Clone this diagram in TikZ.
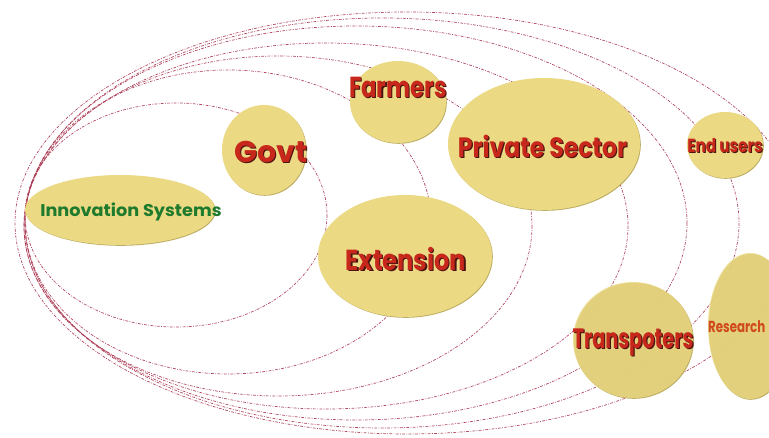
\documentclass[tikz,border=0pt]{standalone}
\usepackage{fontspec}
\usepackage{graphicx}
\setmainfont{Poppins}
\usetikzlibrary{shapes.geometric,shadows}
\definecolor{ringc}{HTML}{A8354F}
\definecolor{blobc}{HTML}{EBD984}
\definecolor{blobedge}{HTML}{B5A452}
\definecolor{labred}{HTML}{C8281C}
\definecolor{labshadow}{HTML}{4A1410}
\definecolor{labgreen}{HTML}{1E7A2C}
\definecolor{resc}{HTML}{D04A1E}
\newcommand\sq[2]{\scalebox{#1}[1]{#2}}
\begin{document}
\begin{tikzpicture}[x=1pt,y=-1pt,
  ring/.style={draw=ringc, line width=0.7pt, opacity=0.9,
    dash pattern=on 2.8pt off 1.4pt on 0.8pt off 1.4pt},
  blob/.style={ellipse, fill=blobc, inner sep=0pt,
    drop shadow={shadow xshift=0.8pt, shadow yshift=-0.8pt, fill=blobedge, opacity=0.9}},
  seeblob/.style={blob, fill opacity=0.8},
  lbl/.style={font=\bfseries\fontsize{#1}{#1}\selectfont, inner sep=0pt, text=labred},
  lblsh/.style={font=\bfseries\fontsize{#1}{#1}\selectfont, inner sep=0pt, text=labshadow}]
\useasboundingbox (0,0) rectangle (769,438);
\clip (0,0) rectangle (769,438);
% nested dashed rings
\draw[ring] (176,215) ellipse [x radius=151, y radius=112];
\draw[ring] (228,222) ellipse [x radius=203, y radius=152];
\draw[ring] (278,226) ellipse [x radius=254, y radius=170];
\draw[ring] (326,226) ellipse [x radius=302, y radius=183];
\draw[ring] (356,223) ellipse [x radius=331, y radius=197];
\draw[ring] (382,223) ellipse [x radius=357, y radius=205];
\draw[ring] (407,223) ellipse [x radius=392, y radius=211];
% blobs
\node[blob, minimum width=190pt, minimum height=70pt] (innov) at (120,210) {};
\node[blob, minimum width=84pt, minimum height=90pt] (govt) at (264,150) {};
\node[blob, minimum width=96pt, minimum height=82pt] (farm) at (398,102) {};
\node[blob, minimum width=192pt, minimum height=132pt] (priv) at (544,144) {};
\node[blob, minimum width=76pt, minimum height=66pt] (endu) at (725,145) {};
\node[blob, minimum width=174pt, minimum height=122pt] (ext) at (405,256) {};
\node[seeblob, minimum width=120pt, minimum height=116pt] (trans) at (633,340) {};
\node[seeblob, minimum width=84pt, minimum height=146pt] (res) at (750,326) {};
% labels
\node[lblsh=30] (govtS) at (272.2,153.2) {\sq{1.0}{Govt}};
\node[lbl=30] (govtT) at (271,152) {\sq{1.0}{Govt}};
\node[lblsh=29] (farmS) at (399.2,88.2) {\sq{0.78}{Farmers}};
\node[lbl=29] (farmT) at (398,87) {\sq{0.78}{Farmers}};
\node[lblsh=28] (privS) at (543.7,147.7) {\sq{0.84}{Private Sector}};
\node[lbl=28] (privT) at (542.5,146.5) {\sq{0.84}{Private Sector}};
\node[lblsh=19] (enduS) at (726,146.8) {\sq{0.8}{End users}};
\node[lbl=19] (enduT) at (725,146) {\sq{0.8}{End users}};
\node[lblsh=29] (extS) at (407.2,260.2) {\sq{0.83}{Extension}};
\node[lbl=29] (extT) at (406,259) {\sq{0.83}{Extension}};
\node[lblsh=28] (transS) at (634.2,343.2) {\sq{0.69}{Transpoters}};
\node[lbl=28] (transT) at (633,342) {\sq{0.69}{Transpoters}};
\node[font=\fontsize{17}{17}\selectfont\bfseries, text=labgreen, inner sep=0pt] (innovT) at (131,212) {\sq{1.04}{Innovation Systems}};
\node[font=\fontsize{16}{16}\selectfont\bfseries, text=resc, inner sep=0pt, anchor=west] (resT) at (708,327) {\sq{0.74}{Research}};
\end{tikzpicture}
\end{document}
